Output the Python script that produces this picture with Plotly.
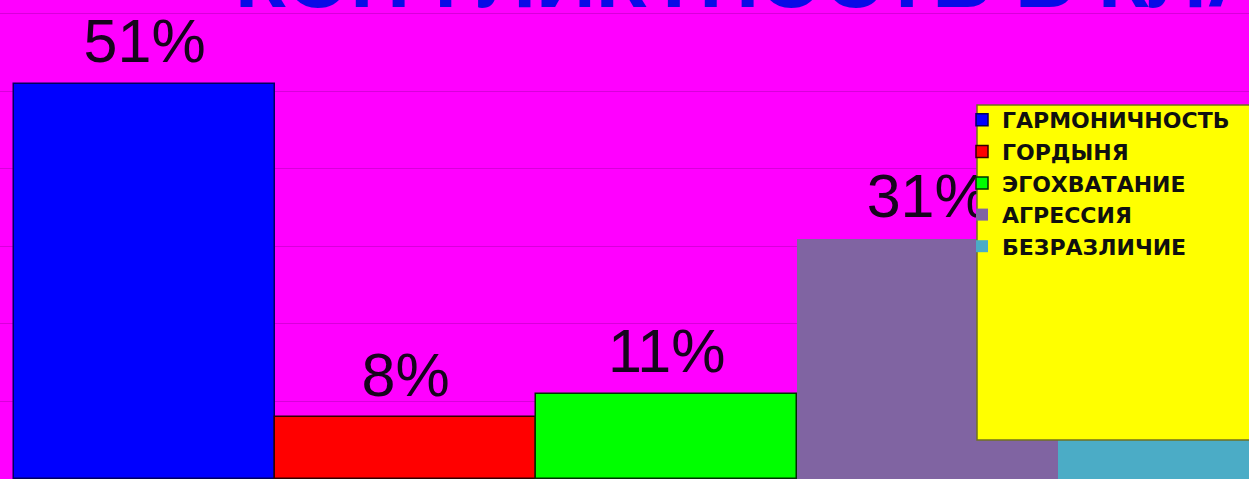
import plotly.graph_objects as go

# ---- data ----
categories = ["ГАРМОНИЧНОСТЬ", "ГОРДЫНЯ", "ЭГОХВАТАНИЕ", "АГРЕССИЯ", "БЕЗРАЗЛИЧИЕ"]
values = [51, 8, 11, 31, 10]  # last value hidden behind the legend in the reference (estimated)
labels = [f"{v}%" for v in values]
title_text = "КОНФЛИКТНОСТЬ В КЛАССЕ"

# ---- styles ----
colors = ["#0000FF", "#FF0000", "#00FF00", "#8064A2", "#4BACC6"]
edge_colors = ["#000060", "#300000", "#003000", "#8064A2", "#4BACC6"]
edge_widths = [1.5, 1.5, 1.5, 0, 0]

W, H = 1249, 479
fig = go.Figure()

for cat, val, col, ec, ew in zip(categories, values, colors, edge_colors, edge_widths):
    fig.add_trace(go.Bar(
        x=[cat], y=[val], name=cat,
        marker=dict(color=col, line=dict(color=ec, width=ew)),
        hoverinfo="skip",
    ))

# value labels above bars (kept in the plot layer so the legend box covers them)
fig.add_trace(go.Scatter(
    x=categories, y=values, text=labels,
    mode="markers+text", textposition="top center",
    marker=dict(size=8, opacity=0),
    textfont=dict(family="Liberation Sans, Arial, sans-serif", size=61, color="#16041c"),
    showlegend=False, hoverinfo="skip", cliponaxis=False,
))

# yellow legend panel
fig.add_shape(
    type="rect", xref="paper", yref="paper",
    x0=977 / W, x1=1.02, y0=1 - 440 / H, y1=1 - 105 / H,
    fillcolor="#FFFF00", line=dict(color="#707020", width=1.5), layer="above",
)

# title (cut off at the top edge as in the reference)
fig.add_annotation(
    text=title_text, xref="paper", yref="paper",
    x=233 / W, y=1, xanchor="left", yanchor="bottom", yshift=-27,
    showarrow=False,
    font=dict(family="Liberation Sans, Arial, sans-serif", size=83, color="#0a0ae6", weight="bold"),
)

fig.update_layout(
    width=W, height=H,
    margin=dict(l=0, r=0, t=0, b=0),
    paper_bgcolor="#FF00FF", plot_bgcolor="#FF00FF",
    barmode="overlay", bargap=0,
    showlegend=True,
    legend=dict(
        x=962 / W, y=1 - 99 / H, xanchor="left", yanchor="top",
        bgcolor="rgba(0,0,0,0)", borderwidth=0,
        font=dict(family="DejaVu Sans, Verdana, sans-serif", size=22, color="#101010", weight="bold"),
        traceorder="normal",
    ),
    xaxis=dict(
        range=[-0.554, 4.231], showticklabels=False, showgrid=False,
        zeroline=False, showline=False, fixedrange=True,
    ),
    yaxis=dict(
        range=[0, 61.8], dtick=10, showticklabels=False, showgrid=True,
        gridcolor="#D800DA", gridwidth=1, zeroline=False, showline=False, fixedrange=True,
    ),
)

fig.write_html(
    "out.html",
    config={"displayModeBar": False},
    post_script="document.body.style.margin='0';",
)
